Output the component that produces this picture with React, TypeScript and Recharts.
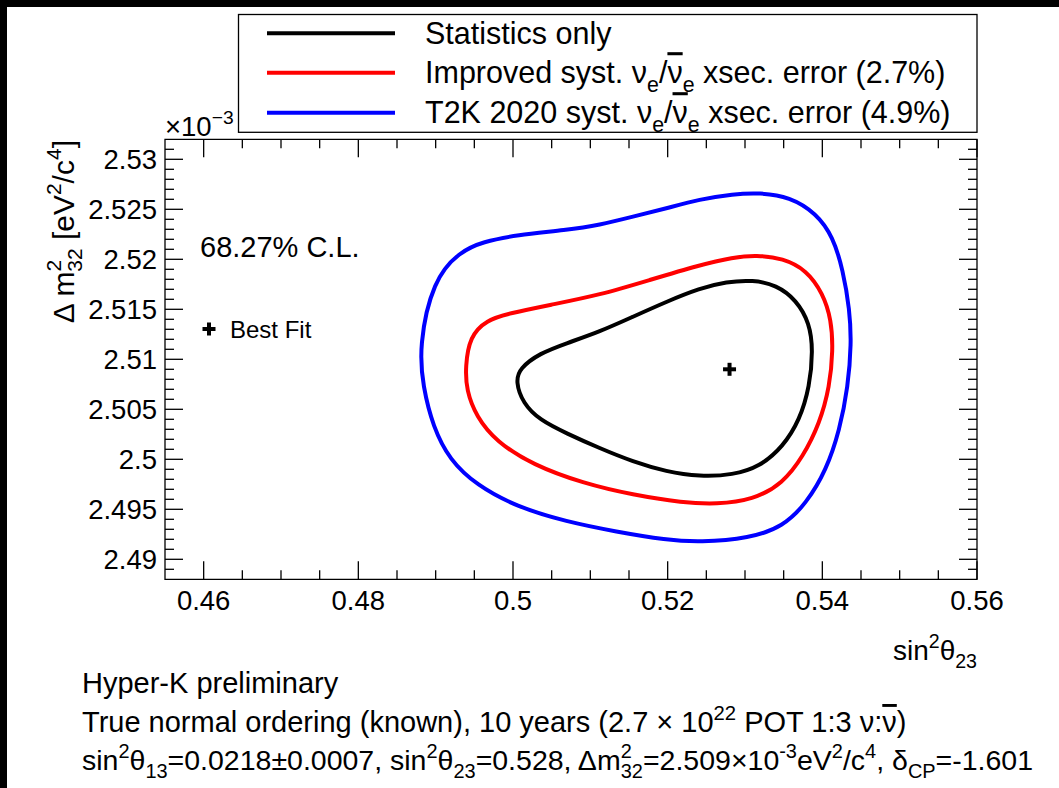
import React from "react";
import { ScatterChart, Scatter, XAxis, YAxis, ReferenceArea } from "recharts";

// sin^2(theta23) vs delta m^2_32 contours, 68.27% C.L.
const xDomain: [number, number] = [0.455, 0.56];
const yDomain: [number, number] = [2.488, 2.532];
const xMajorTicks = [0.46, 0.48, 0.5, 0.52, 0.54, 0.56];
const yMajorTicks = [2.49, 2.495, 2.5, 2.505, 2.51, 2.515, 2.52, 2.525, 2.53];

// contour points [sin2theta23, dm2 (x1e-3)]
const statOnly = [
  [0.50034, 2.50776], [0.50086, 2.5091], [0.50345, 2.5106], [0.5069, 2.5116],
  [0.51121, 2.51276], [0.51551, 2.51426], [0.51983, 2.51576], [0.52414, 2.5171],
  [0.52759, 2.51776], [0.53103, 2.51793], [0.53406, 2.51743], [0.53664, 2.51593],
  [0.53836, 2.5136], [0.53879, 2.51093], [0.53836, 2.50726], [0.53707, 2.50393],
  [0.53491, 2.50126], [0.5319, 2.49926], [0.52845, 2.49843], [0.52414, 2.49826],
  [0.51983, 2.49876], [0.51551, 2.49976], [0.51121, 2.5011], [0.5069, 2.5026],
  [0.50345, 2.50393], [0.50129, 2.5056],
];
const improvedSyst = [
  [0.49384, 2.50926], [0.4944, 2.51226], [0.49656, 2.51393], [0.49957, 2.5146],
  [0.50474, 2.51543], [0.51121, 2.51643], [0.51767, 2.51793], [0.52414, 2.51943],
  [0.52845, 2.5202], [0.53147, 2.52043], [0.53491, 2.5201], [0.53794, 2.51893],
  [0.54008, 2.5166], [0.54117, 2.51393], [0.54138, 2.51093], [0.54095, 2.50726],
  [0.53966, 2.5036], [0.5375, 2.50026], [0.53491, 2.4976], [0.53103, 2.49593],
  [0.5263, 2.4955], [0.52198, 2.49566], [0.51551, 2.49643], [0.50905, 2.4976],
  [0.50258, 2.49943], [0.49785, 2.50176], [0.49526, 2.50426], [0.49397, 2.50693],
];
const t2kSyst = [
  [0.48784, 2.51126], [0.48965, 2.51793], [0.4931, 2.52076], [0.49612, 2.52176],
  [0.50044, 2.52243], [0.5069, 2.52293], [0.51121, 2.52343], [0.51551, 2.52426],
  [0.51983, 2.5251], [0.52414, 2.526], [0.52845, 2.52653], [0.5319, 2.52666],
  [0.53578, 2.52626], [0.53923, 2.5246], [0.54138, 2.52226], [0.54267, 2.51893],
  [0.54354, 2.51493], [0.54376, 2.5116], [0.54332, 2.50726], [0.54224, 2.50293],
  [0.54052, 2.49893], [0.53794, 2.4956], [0.53491, 2.49326], [0.5306, 2.4921],
  [0.52414, 2.4917], [0.51983, 2.49193], [0.51337, 2.49276], [0.5069, 2.49376],
  [0.50044, 2.49526], [0.49526, 2.49743], [0.49181, 2.49993], [0.48965, 2.50326],
  [0.48836, 2.50726],
];
const bestFit = [[0.528, 2.509]];

type Part = { t: string; k?: "sup" | "sub"; dx?: number; bar?: boolean };

const series = [
  { key: "stat", color: "#000000", data: statOnly, label: [{ t: "Statistics only" }] as Part[] },
  {
    key: "impr",
    color: "#ff0000",
    data: improvedSyst,
    label: [
      { t: "Improved syst. \u03BD" }, { t: "e", k: "sub" }, { t: "/" }, { t: "\u03BD", bar: true },
      { t: "e", k: "sub" }, { t: " xsec. error (2.7%)" },
    ] as Part[],
  },
  {
    key: "t2k",
    color: "#0000ff",
    data: t2kSyst,
    label: [
      { t: "T2K 2020 syst. \u03BD" }, { t: "e", k: "sub" }, { t: "/" }, { t: "\u03BD", bar: true },
      { t: "e", k: "sub" }, { t: " xsec. error (4.9%)" },
    ] as Part[],
  },
];

const W = 1059;
const H = 788;
const PLOT_LEFT = 165;
const PLOT_RIGHT = 977;
const PLOT_TOP = 139.3;
const PLOT_BOTTOM = 579.3;
const FONT = "'Liberation Sans', Arial, Helvetica, sans-serif";

const r4 = (v: number) => Math.round(v * 10000) / 10000;
const xTicks: number[] = [];
for (let v = 0.46; v < 0.5601; v += 0.005) xTicks.push(r4(v));
const yTicks: number[] = [];
for (let v = 2.489; v < 2.5315; v += 0.001) yTicks.push(r4(v));
const isMajor = (v: number, list: number[]) => list.some((m) => Math.abs(m - v) < 1e-7);

const toPts = (d: number[][]) => d.map(([x, y]) => ({ x, y }));

function Rich({ x, y, parts, size, anchor = "start", transform }: any) {
  let cur = 0;
  const small = size * 0.7;
  return (
    <text x={x} y={y} fontSize={size} fontFamily={FONT} textAnchor={anchor} transform={transform} fill="#000" style={{ whiteSpace: "pre" }}>
      {parts.map((p: Part, i: number) => {
        const off = p.k === "sup" ? -0.42 * size : p.k === "sub" ? 0.28 * size : 0;
        const dy = off - cur;
        cur = off;
        return (
          <tspan
            key={i}
            dy={dy}
            dx={p.dx ?? 0}
            fontSize={p.k ? small : size}
            style={p.bar ? { textDecoration: "overline" } : undefined}
          >
            {p.t}
          </tspan>
        );
      })}
    </text>
  );
}

const XTick = ({ x, payload }: any) => {
  const v = payload.value;
  const major = isMajor(v, xMajorTicks);
  const len = major ? 18 : 9;
  return (
    <g>
      <line x1={x} x2={x} y1={PLOT_BOTTOM} y2={PLOT_BOTTOM - len} stroke="#000" strokeWidth={1.3} />
      <line x1={x} x2={x} y1={PLOT_TOP} y2={PLOT_TOP + len} stroke="#000" strokeWidth={1.3} />
      {major && (
        <text x={x} y={610} textAnchor="middle" fontSize={27.5} fontFamily={FONT} fill="#000">
          {String(v)}
        </text>
      )}
    </g>
  );
};

const YTick = ({ y, payload }: any) => {
  const v = payload.value;
  const major = isMajor(v, yMajorTicks);
  const len = major ? 18 : 9;
  return (
    <g>
      <line x1={PLOT_LEFT} x2={PLOT_LEFT + len} y1={y} y2={y} stroke="#000" strokeWidth={1.3} />
      <line x1={PLOT_RIGHT} x2={PLOT_RIGHT - len} y1={y} y2={y} stroke="#000" strokeWidth={1.3} />
      {major && (
        <text x={PLOT_LEFT - 8} y={y + 10} textAnchor="end" fontSize={27.5} fontFamily={FONT} fill="#000">
          {String(v)}
        </text>
      )}
    </g>
  );
};

const PlusMark = ({ cx, cy }: any) => (
  <g>
    <rect x={cx - 6.5} y={cy - 2} width={13} height={4} fill="#000" />
    <rect x={cx - 2} y={cy - 6.5} width={4} height={13} fill="#000" />
  </g>
);

const NoShape = () => <g />;

export default function App() {
  const legendY = [33.3, 72.7, 112.7];
  return (
    <div style={{ position: "absolute", left: 0, top: 0, width: W, height: H, background: "#000" }}>
      <div style={{ position: "absolute", left: 7, top: 7, width: W - 7, height: H - 7, background: "#fff" }} />
      <div style={{ position: "absolute", left: 0, top: 0 }}>
        <ScatterChart
          width={W}
          height={H}
          margin={{ top: PLOT_TOP, right: W - PLOT_RIGHT, bottom: H - PLOT_BOTTOM - 40, left: 0 }}
        >
          <XAxis
            dataKey="x"
            type="number"
            domain={xDomain}
            ticks={xTicks}
            interval={0}
            tick={<XTick />}
            tickLine={false}
            axisLine={false}
            height={40}
            allowDataOverflow
          />
          <YAxis
            dataKey="y"
            type="number"
            domain={yDomain}
            ticks={yTicks}
            interval={0}
            tick={<YTick />}
            tickLine={false}
            axisLine={false}
            width={PLOT_LEFT}
            allowDataOverflow
          />
          {series.map((s) => (
            <Scatter
              key={s.key}
              data={toPts(s.data)}
              fill={s.color}
              line={{ stroke: s.color, strokeWidth: 4 }}
              lineType="joint"
              lineJointType="basisClosed"
              shape={NoShape}
              isAnimationActive={false}
            />
          ))}
          <Scatter data={toPts(bestFit)} fill="#000" shape={PlusMark} isAnimationActive={false} />
          <ReferenceArea
            x1={xDomain[0]}
            x2={xDomain[1]}
            y1={yDomain[0]}
            y2={yDomain[1]}
            fill="none"
            stroke="#000"
            strokeWidth={1.3}
          />
        </ScatterChart>
      </div>
      <svg width={W} height={H} style={{ position: "absolute", left: 0, top: 0, pointerEvents: "none" }}>
        {/* legend */}
        <rect x={238.5} y={14.5} width={PLOT_RIGHT - 238.5} height={117.8} fill="#fff" stroke="#000" strokeWidth={1.3} />
        {series.map((s, i) => (
          <g key={s.key}>
            <line x1={267} x2={395} y1={legendY[i]} y2={legendY[i]} stroke={s.color} strokeWidth={4} />
            <Rich x={425} y={legendY[i] + 10.5} parts={s.label} size={30.5} />
          </g>
        ))}
        {/* exponent */}
        <Rich x={165} y={136} size={27.5} parts={[{ t: "\u00D710" }, { t: "\u22123", k: "sup" }]} />
        {/* in-plot labels */}
        <Rich x={200} y={257} size={29} parts={[{ t: "68.27% C.L." }]} />
        <rect x={202.5} y={327} width={13} height={4} fill="#000" />
        <rect x={207} y={322.5} width={4} height={13} fill="#000" />
        <Rich x={230} y={338} size={24} parts={[{ t: "Best Fit" }]} />
        {/* axis titles */}
        <Rich
          x={74}
          y={140}
          size={30}
          anchor="end"
          transform="rotate(-90 74 140)"
          parts={[
            { t: "\u0394 m" }, { t: "2", k: "sup" }, { t: "32", k: "sub", dx: -12 },
            { t: " [eV" }, { t: "2", k: "sup" }, { t: "/c" }, { t: "4", k: "sup" }, { t: "]" },
          ]}
        />
        <Rich
          x={977}
          y={660}
          size={28}
          anchor="end"
          parts={[{ t: "sin" }, { t: "2", k: "sup" }, { t: "\u03B8" }, { t: "23", k: "sub" }]}
        />
        {/* footnotes */}
        <Rich x={82} y={693} size={29} parts={[{ t: "Hyper-K preliminary" }]} />
        <Rich
          x={82}
          y={732}
          size={29}
          parts={[
            { t: "True normal ordering (known), 10 years (2.7 \u00D7 10" }, { t: "22", k: "sup" },
            { t: " POT 1:3 \u03BD:" }, { t: "\u03BD", bar: true }, { t: ")" },
          ]}
        />
        <Rich
          x={82}
          y={770}
          size={28.5}
          parts={[
            { t: "sin" }, { t: "2", k: "sup" }, { t: "\u03B8" }, { t: "13", k: "sub" },
            { t: "=0.0218\u00B10.0007, sin" }, { t: "2", k: "sup" }, { t: "\u03B8" }, { t: "23", k: "sub" },
            { t: "=0.528, \u0394m" }, { t: "2", k: "sup" }, { t: "32", k: "sub", dx: -11 },
            { t: "=2.509\u00D710" }, { t: "-3", k: "sup" }, { t: "eV" }, { t: "2", k: "sup" },
            { t: "/c" }, { t: "4", k: "sup" }, { t: ", \u03B4" }, { t: "CP", k: "sub" }, { t: "=-1.601" },
          ]}
        />
      </svg>
    </div>
  );
}
